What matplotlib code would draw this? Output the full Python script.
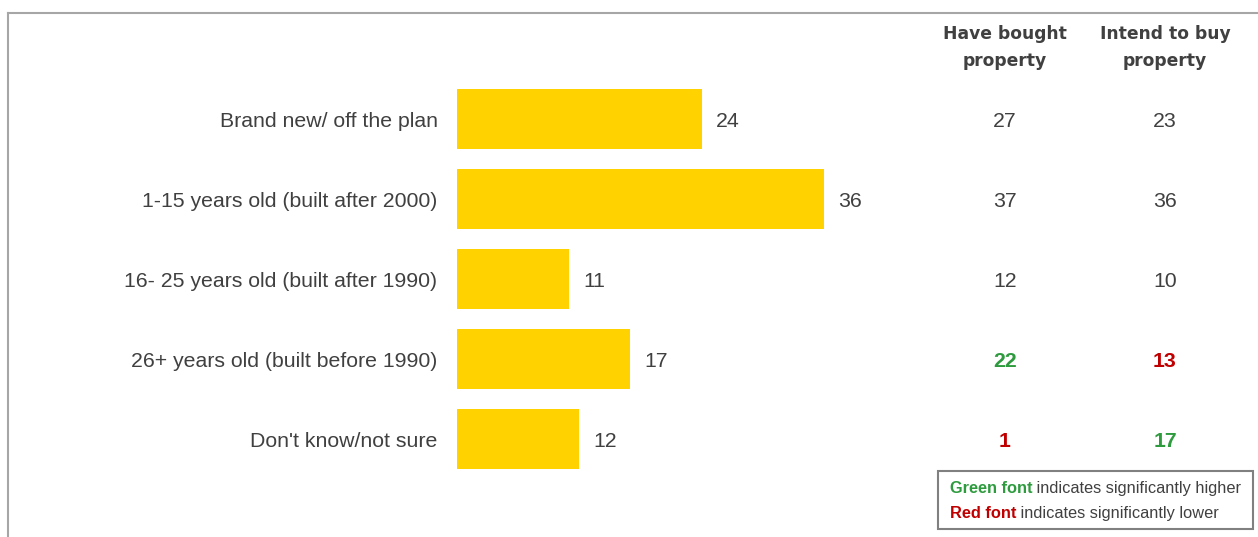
import matplotlib.pyplot as plt
from matplotlib.patches import Rectangle
from matplotlib.lines import Line2D
from matplotlib.transforms import blended_transform_factory

# ---------------------- DATA ----------------------

categories = [
    'Brand new/ off the plan',
    '1-15 years old (built after 2000)',
    '16- 25 years old (built after 1990)',
    '26+ years old (built before 1990)',
    "Don't know/not sure",
]
total = [24, 36, 11, 17, 12]
have_bought = [27, 37, 12, 22, 1]
intend_to_buy = [23, 36, 10, 13, 17]
# significance flags: 1 = higher, -1 = lower, 0 = none
bought_sig = [0, 0, 0, 1, -1]
intend_sig = [0, 0, 0, -1, 1]
col_headers = ['Have bought\nproperty', 'Intend to buy\nproperty']

# ---------------------- STYLE ----------------------

W, H = 1258, 537
BAR = '#FFD200'
TXT = '#404040'
GREEN = '#2E9B3E'
RED = '#C00000'
FRAME = '#A6A6A6'
sig_colour = {0: TXT, 1: GREEN, -1: RED}
LABEL_SIZE = 15.3
NUDGE = 0.03  # push row text slightly down, in row units

plt.rcParams['font.family'] = ['Liberation Sans', 'DejaVu Sans']


def fx(px):
    return px / W


def fy(py):
    return 1 - py / H


fig = plt.figure(figsize=(W / 100, H / 100), dpi=100)

# outer frame (top and left edges only)
fig.add_artist(Line2D([fx(8), 1], [fy(13), fy(13)], color=FRAME, lw=1.5))
fig.add_artist(Line2D([fx(8), fx(8)], [fy(13), 0], color=FRAME, lw=1.5))

# ---------------------- BARS ----------------------

ax = fig.add_axes([fx(457), fy(479), fx(408), 400 / H])
ypos = list(range(len(categories)))
ax.barh(ypos, total, height=0.76, color=BAR)
ax.set_xlim(0, 40)
ax.set_ylim(len(categories) - 0.5, -0.5)
ax.axis('off')

for y, v, name in zip(ypos, total, categories):
    ax.text(v + 1.35, y + NUDGE, str(v), va='center', ha='left',
            fontsize=LABEL_SIZE, color=TXT)
    ax.annotate(name, xy=(0, y + NUDGE), xytext=(-14, 0), textcoords='offset points',
                ha='right', va='center', fontsize=LABEL_SIZE, color=TXT)

# ---------------------- SUB-GROUP COLUMNS ----------------------

col_x = [1005, 1165]
tr = blended_transform_factory(fig.transFigure, ax.transData)

for cx, head in zip(col_x, col_headers):
    fig.text(fx(cx), fy(47.5), head, ha='center', va='center', fontsize=12.3,
             fontweight='bold', family=['DejaVu Sans'], color=TXT,
             linespacing=1.6)

for cx, vals, sig in zip(col_x, [have_bought, intend_to_buy], [bought_sig, intend_sig]):
    for y, v, s in zip(ypos, vals, sig):
        ax.text(fx(cx), y + NUDGE, str(v), transform=tr, ha='center', va='center',
                fontsize=LABEL_SIZE, color=sig_colour[s],
                fontweight='bold' if s else 'normal')

# ---------------------- SIGNIFICANCE KEY ----------------------

fig.add_artist(Rectangle((fx(938), fy(529)), fx(315), 58 / H,
                         transform=fig.transFigure, fill=False,
                         edgecolor='#808080', lw=1.5))
key = [('Green font', GREEN, ' indicates significantly higher', 488.5),
       ('Red font', RED, ' indicates significantly lower', 513.5)]
for bold, colour, rest, py in key:
    t = fig.text(fx(950), fy(py), bold, ha='left', va='center', fontsize=11.8,
                 fontweight='bold', color=colour)
    fig.canvas.draw()
    bb = t.get_window_extent()
    fig.text(bb.x1 / W, fy(py), rest, ha='left', va='center', fontsize=11.8,
             color=TXT)

fig.savefig('out.png', dpi=100)
